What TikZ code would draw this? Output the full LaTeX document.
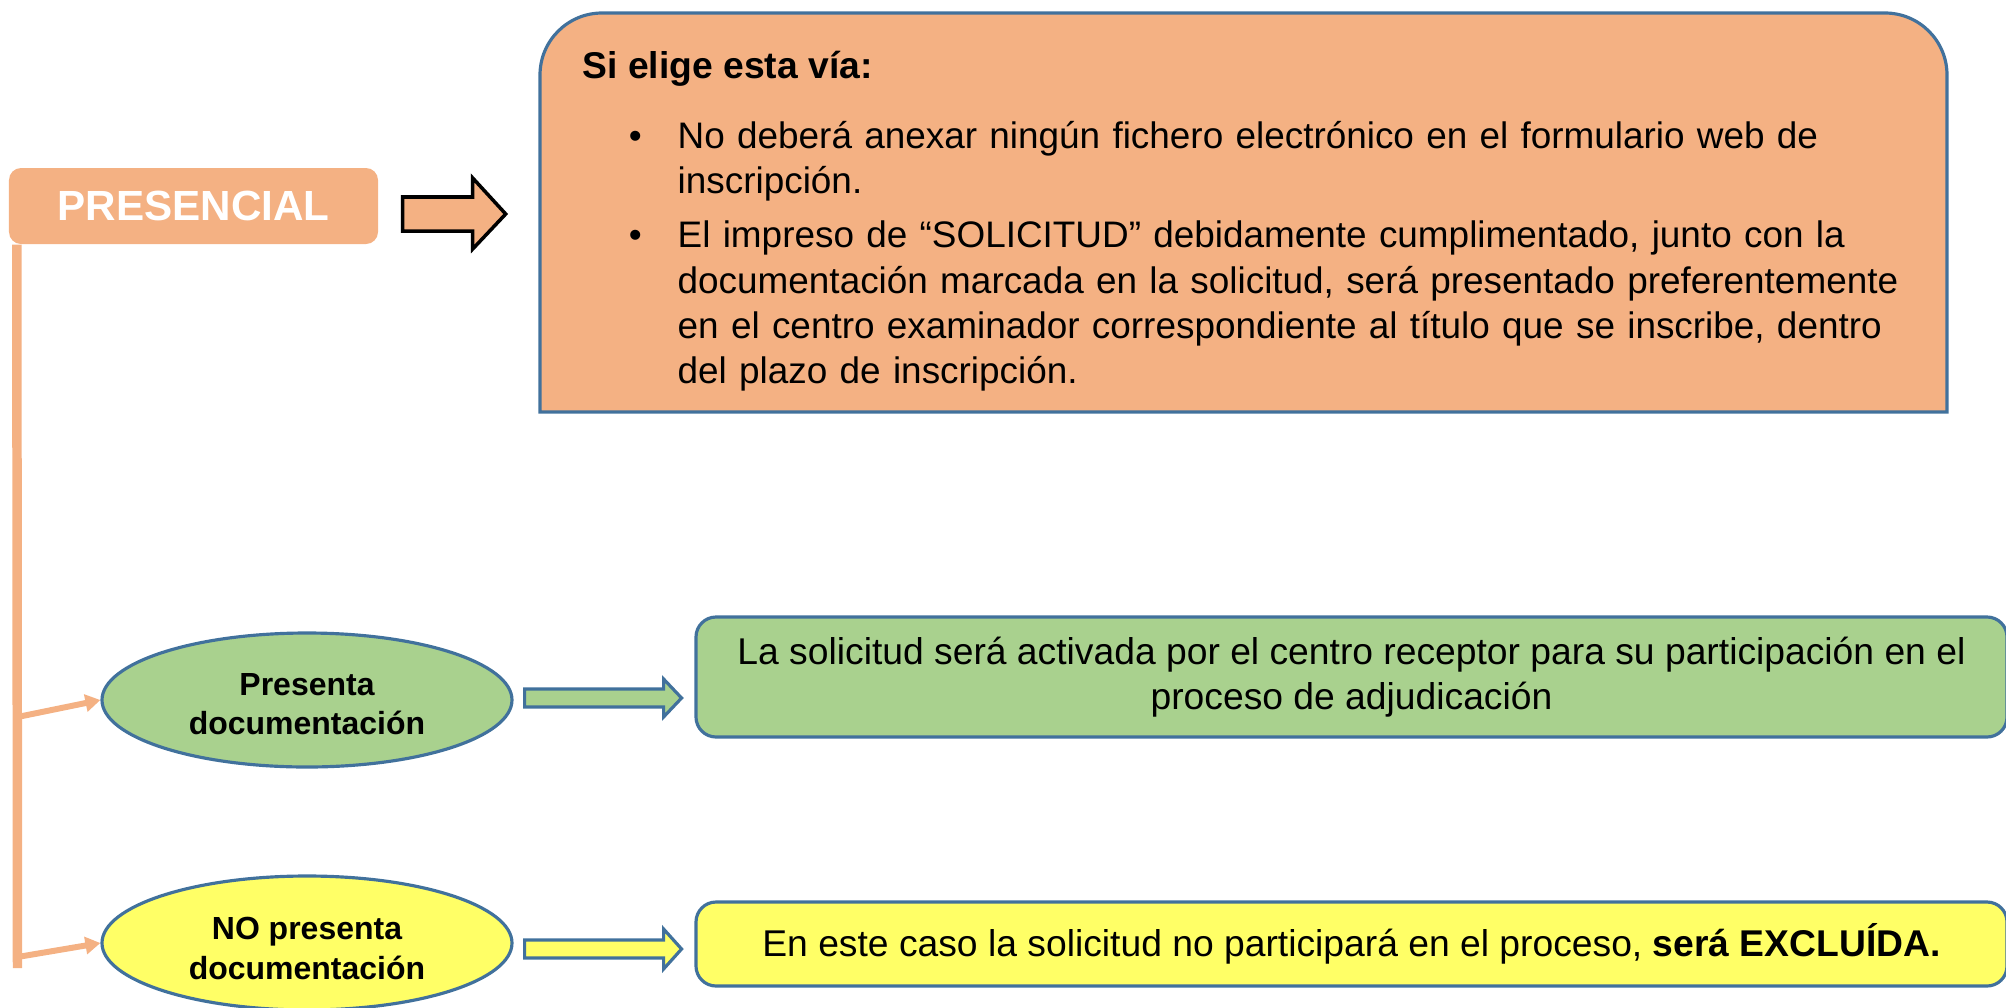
\documentclass[tikz,border=0pt]{standalone}
\usepackage{fontspec}
\setmainfont{Liberation Sans}
\usepackage{enumitem}
\usetikzlibrary{shapes.geometric,arrows.meta}
\definecolor{naranja}{HTML}{F4B183}
\definecolor{verde}{HTML}{A9D18E}
\definecolor{amarillo}{HTML}{FFFF66}
\definecolor{borde}{HTML}{41719C}

\begin{document}
\begin{tikzpicture}[line join=miter,
    via/.style={fill=naranja,draw=borde,line width=.9pt},
    titulo/.style={fill=naranja,rounded corners=.12cm,minimum width=3.69cm,minimum height=.76cm,
      text=white,font=\bfseries\fontsize{12}{14}\selectfont},
    caso/.style={ellipse,draw=borde,line width=.9pt,minimum width=4.1cm,minimum height=1.34cm,
      inner sep=0pt,align=center,font=\bfseries\fontsize{9.1}{11.3}\selectfont},
    resultado/.style={rectangle,draw=borde,line width=.9pt,rounded corners=.2cm,
      minimum width=13.11cm,align=center,font=\fontsize{10.6}{13}\selectfont},
    flecha/.style={line width=.9pt,draw=borde},
    rama/.style={draw=naranja,line width=1.7pt,-{Triangle[length=.15cm,width=.17cm]}}]
  \useasboundingbox (0,0) rectangle (20.06,-10.07);
  \draw[via] (5.40,-4.12) -- (5.40,-.75) arc[start angle=180,end angle=90,radius=.62]
    -- (18.85,-.13) arc[start angle=90,end angle=0,radius=.62] -- (19.47,-4.12) -- cycle;
  \node[anchor=base west,inner sep=0pt,font=\bfseries\fontsize{10.6}{12.9}\selectfont] (elige) at (5.82,-.78) {Si elige esta vía:};
  \node[anchor=north west,text width=13.4cm,inner sep=0pt,font=\fontsize{10.5}{12.9}\selectfont] (pasos) at (6.36,-1.02) {%
    \begin{itemize}[leftmargin=.41cm,labelsep=.36cm,itemsep=2.6pt,parsep=0pt,topsep=0pt]
    \item No deberá anexar ningún fichero electrónico en el formulario web de\newline inscripción.
    \item El impreso de “SOLICITUD” debidamente cumplimentado, junto con la\newline
      documentación marcada en la solicitud, será presentado preferentemente\newline
      en el centro examinador correspondiente al título que se inscribe, dentro\newline
      del plazo de inscripción.
    \end{itemize}};
  \node[titulo] (pres) at (1.935,-2.06) {PRESENCIAL};
  \draw[line width=1pt,fill=naranja] (pres.east) ++(.24,.09) -- ++(.70,0) -- ++(0,.19) -- ++(.33,-.36)
    -- ++(-.33,-.35) -- ++(0,.18) -- ++(-.70,0) -- cycle;
  \node[caso,fill=verde] (doc1) at (3.07,-7.00) {\rule{0pt}{8.6pt}Presenta\\documentación};
  \node[caso,fill=amarillo] (doc2) at (3.07,-9.43) {\rule{0pt}{9.4pt}NO presenta\\documentación};
  \coordinate (fin) at (.175,-9.68);
  \coordinate (b1) at (.175,-7.17);
  \coordinate (b2) at (.175,-9.57);
  \draw[naranja,line width=2.7pt] ([xshift=.085cm]pres.south west) -- (fin);
  \draw[rama] (b1) -- (doc1.west);
  \draw[rama] (b2) -- (doc2.west);
  \draw[flecha,fill=verde] (doc1.east) ++(.11,.11) -- ++(1.39,0) -- ++(0,.10) -- ++(.18,-.19)
    -- ++(-.18,-.19) -- ++(0,.10) -- ++(-1.39,0) -- cycle;
  \draw[flecha,fill=amarillo] (doc2.east) ++(.11,.03) -- ++(1.39,0) -- ++(0,.11) -- ++(.18,-.20)
    -- ++(-.18,-.20) -- ++(0,.11) -- ++(-1.39,0) -- cycle;
  \node[resultado,fill=verde,minimum height=1.2cm] (activa) at (13.515,-6.77)
    {La solicitud será activada por el centro receptor para su participación en el\\proceso de adjudicación};
  \node[resultado,fill=amarillo,minimum height=.84cm] (excluida) at (13.515,-9.44)
    {En este caso la solicitud no participará en el proceso, \textbf{será EXCLUÍDA.}};
\end{tikzpicture}
\end{document}
